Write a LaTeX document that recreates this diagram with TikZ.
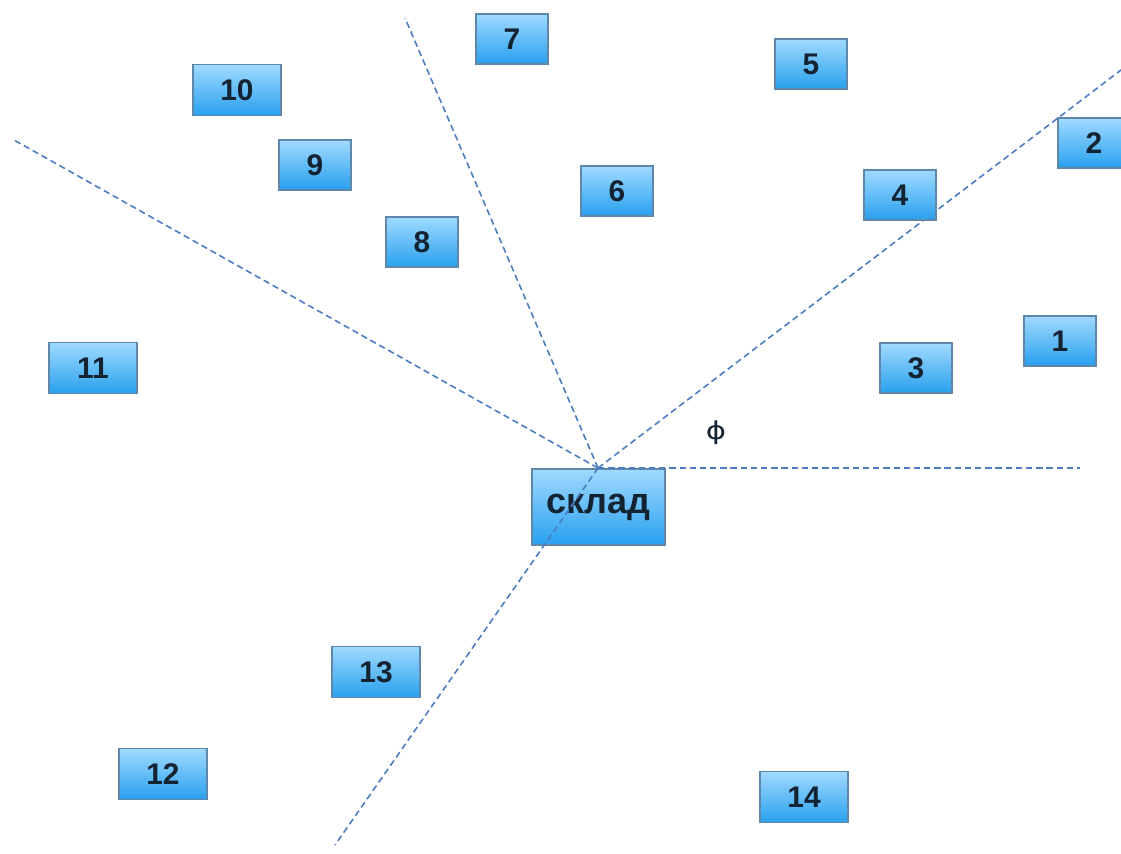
\documentclass[tikz,border=0pt]{standalone}
\usepackage{fontspec}
\setmainfont{Liberation Sans}
\newfontfamily\phifont{DejaVu Sans}
\definecolor{boxtop}{RGB}{160,218,255}
\definecolor{boxbot}{RGB}{40,160,238}
\definecolor{boxedge}{RGB}{95,135,170}
\definecolor{linecol}{RGB}{75,125,195}
\definecolor{txtcol}{RGB}{20,35,50}
\tikzset{
  numbox/.style={draw=boxedge, line width=0.8pt, top color=boxtop, bottom color=boxbot,
    minimum width=1.44cm, minimum height=1.0cm, inner sep=0pt,
    font=\fontsize{17}{17}\selectfont\bfseries, text=txtcol},
  widebox/.style={numbox, minimum width=1.76cm, minimum height=1.02cm},
  storebox/.style={numbox, minimum width=2.66cm, minimum height=1.52cm, font=\fontsize{20.5}{20.5}\selectfont\bfseries},
  ray/.style={draw=linecol, line width=0.9pt, dash pattern=on 3.6pt off 2.2pt}
}
\begin{document}
\begin{tikzpicture}[x=0.02cm,y=-0.02cm]
\clip (0,0) rectangle (1121,853);
\fill[white] (0,0) rectangle (1121,853);
\node[storebox] (s) at (598.5,507) {склад};
\coordinate (c) at (598,468);
\coordinate (e1) at (405,18);
\coordinate (e2) at (14,140);
\coordinate (e3) at (1125,67);
\coordinate (e4) at (1080,468);
\coordinate (e5) at (335,845);
\draw[ray] (c) -- (e1);
\draw[ray] (c) -- (e2);
\draw[ray] (c) -- (e3);
\draw[ray] (c) -- (e4);
\draw[ray] (c) -- (e5);
\node[numbox] (n7) at (512,39) {7};
\node[numbox] (n5) at (811,64) {5};
\node[widebox] (n10) at (237,90) {10};
\node[numbox] (n2) at (1094,143) {2};
\node[numbox] (n9) at (315,165) {9};
\node[numbox] (n6) at (617,191) {6};
\node[numbox] (n4) at (900,195) {4};
\node[numbox] (n8) at (422,242) {8};
\node[numbox] (n1) at (1060,341) {1};
\node[numbox] (n3) at (916,368) {3};
\node[widebox] (n11) at (93,368) {11};
\node[widebox] (n13) at (376,672) {13};
\node[widebox] (n12) at (163,774) {12};
\node[widebox] (n14) at (804,797) {14};
\node[font=\phifont\fontsize{14}{14}\selectfont, text=txtcol, xscale=1.25] (phi) at (716,433) {ϕ};
\end{tikzpicture}
\end{document}
